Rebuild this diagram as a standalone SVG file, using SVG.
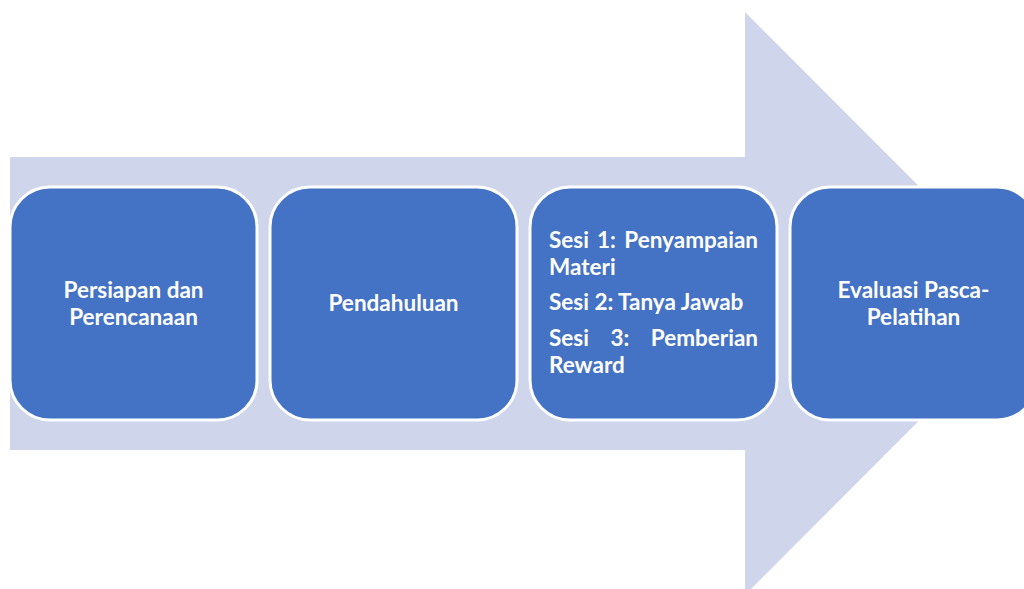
<svg xmlns="http://www.w3.org/2000/svg" width="1024" height="589" viewBox="0 0 1024 589">
<style>
.box{fill:#4472C4;stroke:#FFFFFF;stroke-width:3}
.t{font-family:Lato,"Open Sans","Liberation Sans",sans-serif;font-weight:bold;font-size:22.5px;fill:#FFFFFF}
.c{text-anchor:middle}
.e{text-anchor:end}
</style>
<rect width="1024" height="589" fill="#FFFFFF"/>
<g id="arrow">
<polygon points="10,157 745,157 745,12 1036,303.5 745,595 745,450 10,450" fill="#CFD5EA"/>
</g>
<g id="connectors"></g>
<g id="node1">
<rect class="box" x="10" y="187" width="247" height="233" rx="40" ry="40"/>
<text class="t c" x="133.5" y="298">Persiapan dan</text>
<text class="t c" x="133.5" y="325">Perencanaan</text>
</g>
<g id="node2">
<rect class="box" x="270" y="187" width="247" height="233" rx="40" ry="40"/>
<text class="t c" x="393.5" y="311">Pendahuluan</text>
</g>
<g id="node3">
<rect class="box" x="530" y="187" width="247" height="233" rx="40" ry="40"/>
<text class="t" x="549" y="248">Sesi</text>
<text class="t" x="597" y="248">1:</text>
<text class="t e" x="758" y="248">Penyampaian</text>
<text class="t" x="549" y="275">Materi</text>
<text class="t" x="549" y="310">Sesi 2: Tanya Jawab</text>
<text class="t" x="549" y="346">Sesi</text>
<text class="t c" x="620" y="346">3:</text>
<text class="t e" x="758" y="346">Pemberian</text>
<text class="t" x="549" y="373">Reward</text>
</g>
<g id="node4">
<rect class="box" x="790" y="187" width="247" height="233" rx="40" ry="40"/>
<text class="t c" x="913.5" y="298">Evaluasi Pasca-</text>
<text class="t c" x="913.5" y="325">Pelatihan</text>
</g>
</svg>
